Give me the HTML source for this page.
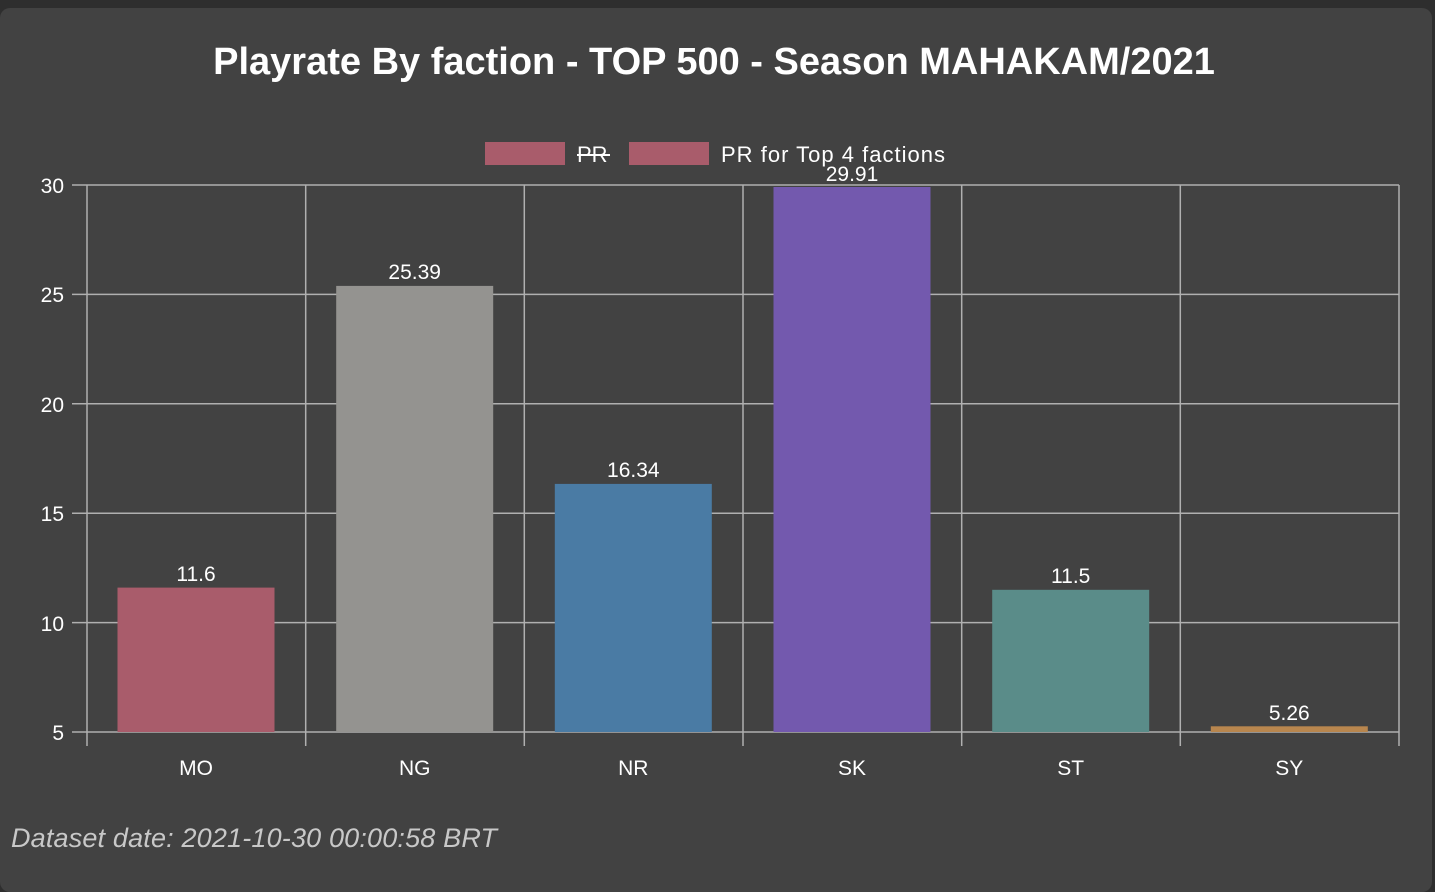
<!DOCTYPE html>
<html><head><style>
body{margin:0;background:#2e2e2e;width:1435px;height:892px;overflow:hidden;font-family:"Liberation Sans",sans-serif}
.p{position:absolute;left:0;top:8px;width:1432px;height:884px;background:#424242;border-radius:10px}
</style></head><body>
<div class="p"></div>
<svg width="1435" height="892" style="position:absolute;left:0;top:0" font-family="Liberation Sans, sans-serif">
<text x="714" y="74" text-anchor="middle" fill="#fff" font-size="38" font-weight="bold">Playrate By faction - TOP 500 - Season MAHAKAM/2021</text>
<rect x="485" y="142" width="80" height="23" fill="#a95c6b"/>
<text x="577" y="162" fill="#fff" font-size="22">PR</text>
<line x1="577" y1="155" x2="610" y2="155" stroke="#fff" stroke-width="2"/>
<rect x="629" y="142" width="80" height="23" fill="#a95c6b"/>
<text x="721" y="162" fill="#fff" font-size="22" textLength="224">PR for Top 4 factions</text>
<g stroke="#b0b0b0" stroke-width="1.5">
<line x1="72" y1="185" x2="1399" y2="185"/><line x1="72" y1="294.4" x2="1399" y2="294.4"/>
<line x1="72" y1="403.8" x2="1399" y2="403.8"/><line x1="72" y1="513.2" x2="1399" y2="513.2"/>
<line x1="72" y1="622.6" x2="1399" y2="622.6"/><line x1="72" y1="732" x2="1399" y2="732"/>
<line x1="87" y1="185" x2="87" y2="746"/><line x1="305.7" y1="185" x2="305.7" y2="746"/>
<line x1="524.3" y1="185" x2="524.3" y2="746"/><line x1="743" y1="185" x2="743" y2="746"/>
<line x1="961.7" y1="185" x2="961.7" y2="746"/><line x1="1180.3" y1="185" x2="1180.3" y2="746"/>
<line x1="1399" y1="185" x2="1399" y2="746"/>
</g>
<g fill="#fff" font-size="21" text-anchor="end">
<text x="64" y="193">30</text><text x="64" y="302">25</text><text x="64" y="412">20</text>
<text x="64" y="521">15</text><text x="64" y="631">10</text><text x="64" y="740">5</text>
</g>
<rect x="117.5" y="587.6" width="157" height="144.4" fill="#a95c6b"/>
<rect x="336.2" y="285.9" width="157" height="446.1" fill="#949390"/>
<rect x="554.8" y="483.9" width="157" height="248.1" fill="#4a7ba4"/>
<rect x="773.5" y="187" width="157" height="545" fill="#7359ae"/>
<rect x="992.2" y="589.8" width="157" height="142.2" fill="#5a8c89"/>
<rect x="1210.8" y="726.3" width="157" height="5.7" fill="#b8864e"/>
<g fill="#fff" font-size="21" text-anchor="middle">
<text x="196" y="581">11.6</text><text x="414.7" y="279">25.39</text><text x="633.3" y="477">16.34</text>
<text x="852" y="181">29.91</text><text x="1070.7" y="583">11.5</text><text x="1289.3" y="720">5.26</text>
<text x="196" y="775">MO</text><text x="414.7" y="775">NG</text><text x="633.3" y="775">NR</text>
<text x="852" y="775">SK</text><text x="1070.7" y="775">ST</text><text x="1289.3" y="775">SY</text>
</g>
<text x="11" y="847" fill="#c8c8c8" font-size="27" font-style="italic" textLength="486">Dataset date: 2021-10-30 00:00:58 BRT</text>
</svg>
</body></html>
